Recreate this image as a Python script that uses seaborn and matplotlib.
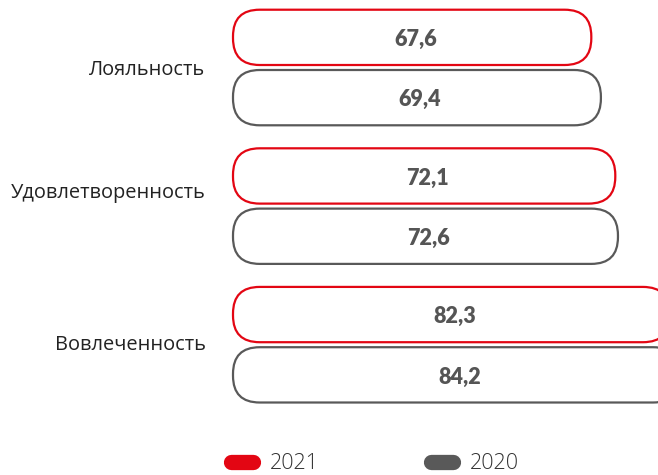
import matplotlib
matplotlib.use("Agg")
import matplotlib.pyplot as plt
import seaborn as sns
import pandas as pd
from matplotlib.patches import FancyBboxPatch
from matplotlib.lines import Line2D
from matplotlib.transforms import IdentityTransform

categories = ["Лояльность", "Удовлетворенность", "Вовлеченность"]
values_2021 = [67.6, 72.1, 82.3]
values_2020 = [69.4, 72.6, 84.2]
years = ["2021", "2020"]
colors = {"2021": "#e30613", "2020": "#595959"}

df = pd.DataFrame({
    "category": categories * 2,
    "year": [years[0]] * 3 + [years[1]] * 3,
    "value": values_2021 + values_2020,
})

sns.set_style("white")
plt.rcParams["font.family"] = ["Open Sans", "DejaVu Sans"]

W, H = 658, 475
fig = plt.figure(figsize=(W / 100, H / 100), dpi=100)
ax = fig.add_axes([232 / W, 0, (W - 232) / W, 1])

sns.barplot(data=df, y="category", x="value", hue="year", hue_order=years,
            palette=colors, orient="h", width=0.87, ax=ax, legend=False)

ax.set_xlim(0, (W - 232) / 5.33)
ax.set_ylim(2.94, -0.487)
for s in ax.spines.values():
    s.set_visible(False)
ax.set_xticks([])
ax.set_xlabel("")
ax.set_ylabel("")
ax.set_yticks([0.0, 0.89, 1.985], labels=categories)
ax.tick_params(axis="y", length=0, pad=19, labelsize=14.4, labelcolor="#222222")

fig.canvas.draw()

for cont, yr in zip(ax.containers, years):
    col = colors[yr]
    for bar in cont:
        bb = bar.get_window_extent()
        x0, y0, x1, y1 = bb.x0, bb.y0, bb.x1, bb.y1
        m = 2.5
        h = (y1 - y0) - 2 * m
        r = h / 2 - 1
        patch = FancyBboxPatch((x0 + 1, y0 + m), (x1 - x0) - 2, h,
                               boxstyle=f"round,pad=0,rounding_size={r}",
                               transform=IdentityTransform(),
                               facecolor="white", edgecolor=col, linewidth=1.6,
                               zorder=3, clip_on=False)
        ax.add_patch(patch)
        bar.set_visible(False)
        val = bar.get_width()
        cy = bar.get_y() + bar.get_height() / 2 + 0.015
        ax.text(val / 2 + 0.6, cy, f"{val:.1f}".replace(".", ","), ha="center", va="center",
                fontsize=15.5, fontweight="heavy", color="#555555",
                family=["Lato", "DejaVu Sans"], zorder=5)

ax.set_xlim(0, (W - 232) / 5.33)
ax.set_ylim(2.94, -0.487)

handles = [Line2D([0], [0], color=colors[y], lw=11, solid_capstyle="round") for y in years]
fig.legend(handles, years, loc="center", bbox_to_anchor=(0.57, 0.024), ncol=2,
           frameon=False, handlelength=1.0, columnspacing=5.2,
           handletextpad=0.8, labelcolor="#333333",
           prop={"family": ["Open Sans", "DejaVu Sans"], "size": 15.5, "weight": "light"})

fig.savefig("out.png", dpi=100)
